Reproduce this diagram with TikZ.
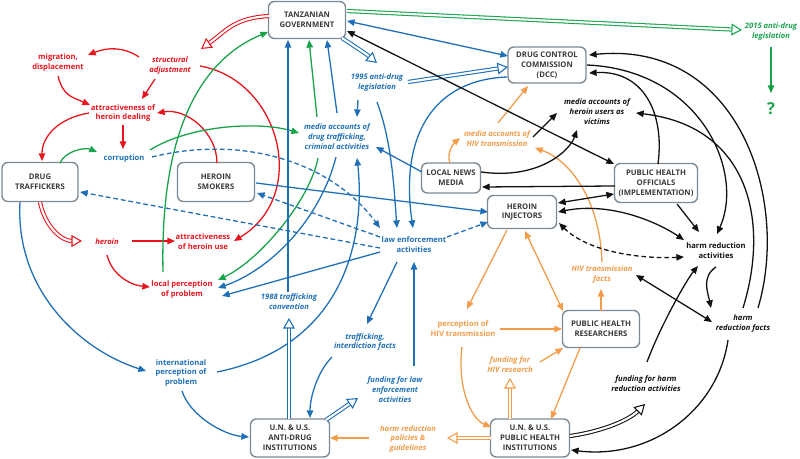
\documentclass[tikz,border=0pt]{standalone}
\usepackage{fontspec}
\setmainfont{Open Sans}
\usetikzlibrary{arrows.meta}
\definecolor{rd}{HTML}{E8141B}
\definecolor{gr}{HTML}{17A34A}
\definecolor{bl}{HTML}{1E6FB8}
\definecolor{og}{HTML}{F39C4A}
\definecolor{bk}{HTML}{111111}
\definecolor{bx}{HTML}{7D8A94}
\definecolor{tx}{HTML}{3A3A3A}
\begin{document}
\begin{tikzpicture}[x=0.03cm,y=-0.03cm,
 box/.style={draw=bx,line width=1.2pt,rounded corners=5pt,fill=white,align=center,text=tx,font=\fontsize{6.6}{8.5}\selectfont\bfseries,inner sep=1pt},
 lbl/.style={align=center,font=\fontsize{6.5}{8.5}\selectfont\bfseries,inner sep=1pt},
 ilbl/.style={align=center,font=\fontsize{6.5}{8.5}\selectfont\bfseries\itshape,inner sep=1pt},
 ar/.style={line width=1.1pt,-{Triangle[length=6.5pt,width=5.5pt]}},
 ar2/.style={line width=1.1pt,{Triangle[length=6.5pt,width=5.5pt]}-{Triangle[length=6.5pt,width=5.5pt]}},
 dbl/.style={double distance=1.8pt,line width=0.9pt,double=white,-{Triangle[open,fill=white,length=9pt,width=10pt]}},
 dsh/.style={dash pattern=on 4pt off 2.5pt}
]
\useasboundingbox (0,0) rectangle (800,459);
% boxes
\node[box,minimum width=2.31cm,minimum height=1.11cm] (TG) at (307,20) {TANZANIAN\\GOVERNMENT};
\node[box,minimum width=2.34cm,minimum height=1.08cm] (DCC) at (547,65) {DRUG CONTROL\\COMMISSION\\(DCC)};
\node[box,minimum width=2.28cm,minimum height=1.17cm] (DT) at (40,182) {DRUG\\TRAFFICKERS};
\node[box,minimum width=2.31cm,minimum height=1.17cm] (HS) at (216,182) {HEROIN\\SMOKERS};
\node[box,minimum width=1.77cm,minimum height=0.9cm] (LNM) at (451,178) {LOCAL NEWS\\MEDIA};
\node[box,minimum width=2.07cm,minimum height=0.99cm] (HI) at (522,212) {HEROIN\\INJECTORS};
\node[box,minimum width=2.49cm,minimum height=1.17cm] (PHO) at (656,183) {PUBLIC HEALTH\\OFFICIALS\\(IMPLEMENTATION)};
\node[box,minimum width=2.31cm,minimum height=1.11cm] (PHR) at (601,329) {PUBLIC HEALTH\\RESEARCHERS};
\node[box,minimum width=2.37cm,minimum height=1.14cm] (UNAD) at (290,438) {U.N. \& U.S.\\ANTI-DRUG\\INSTITUTIONS};
\node[box,minimum width=2.37cm,minimum height=1.14cm] (UNPH) at (530,438) {U.N. \& U.S.\\PUBLIC HEALTH\\INSTITUTIONS};
% labels
\node[lbl,text=rd] (mig) at (58,63) {migration,\\displacement};
\node[ilbl,text=rd] (sa) at (170,66) {structural\\adjustment};
\node[lbl,text=rd] (ahd) at (123,113) {attractiveness of\\heroin dealing};
\node[ilbl,text=rd] (her) at (107,242) {heroin};
\node[lbl,text=rd] (ahu) at (203,242) {attractiveness\\of heroin use};
\node[lbl,text=rd] (lpp) at (182,290) {local perception\\of problem};
\node[lbl,text=bl] (cor) at (124,159) {corruption};
\node[ilbl,text=bl] (l95) at (377,83) {1995 anti-drug\\legislation};
\node[ilbl,text=bl] (mad) at (337,137) {media accounts of\\drug trafficking,\\criminal activities};
\node[lbl,text=bl] (lea) at (414,245) {law enforcement\\activities};
\node[ilbl,text=bl] (c88) at (289,302) {1988 trafficking\\convention};
\node[ilbl,text=bl] (tif) at (365,342) {trafficking,\\interdiction facts};
\node[ilbl,text=bl] (fle) at (395,390) {funding for law\\enforcement\\activities};
\node[lbl,text=bl] (ipp) at (181,373) {international\\perception of\\problem};
\node[ilbl,text=og] (mah) at (497,139) {media accounts of\\HIV transmission};
\node[ilbl,text=og] (htf) at (602,275) {HIV transmission\\facts};
\node[lbl,text=og] (pht) at (463,329) {perception of\\HIV transmission};
\node[ilbl,text=og] (fhr) at (510,365) {funding for\\HIV research};
\node[ilbl,text=og] (hrp) at (408,439) {harm reduction\\policies \&\\guidelines};
\node[ilbl,text=bk] (mav) at (597,112) {media accounts of\\heroin users as\\victims};
\node[lbl,text=bk] (hra) at (716,251) {harm reduction\\activities};
\node[ilbl,text=bk] (hrf) at (743,324) {harm\\reduction facts};
\node[ilbl,text=bk] (fhra) at (646,384) {funding for harm\\reduction activities};
\node[ilbl,text=gr] (l15) at (771,32) {2015 anti-drug\\legislation};
\node[text=gr,font=\fontsize{14}{14}\selectfont\bfseries] (q) at (771,109) {?};
% RED
\draw[rd,dbl] ([shift={(-38,-4)}]TG.center) .. controls +(-35,2) and +(25,-18) .. ([shift={(31,-17)}]sa.center);
\draw[rd,ar] ([shift={(-31,-9)}]sa.center) .. controls +(-15,-10) and +(20,-8) .. ([shift={(30,-8)}]mig.center);
\draw[rd,ar] ([shift={(-15,13)}]sa.center) -- ([shift={(19,-14)}]ahd.center);
\draw[rd,ar] ([shift={(0,13)}]mig.center) .. controls +(5,20) and +(-18,-8) .. ([shift={(-33,-8)}]ahd.center);
\draw[rd,ar] ([shift={(-34,0)}]ahd.center) .. controls +(-30,5) and +(0,-25) .. ([shift={(2,-21)}]DT.center);
\draw[rd,ar] ([shift={(0,12)}]ahd.center) -- ([shift={(-1,-10)}]cor.center);
\draw[rd,ar] ([shift={(1,-19)}]HS.center) .. controls +(0,-30) and +(30,-5) .. ([shift={(34,0)}]ahd.center);
\draw[rd,ar] ([shift={(30,0)}]sa.center) .. controls +(80,14) and +(76,-46) .. ([shift={(31,-1)}]ahu.center);
\draw[rd,dbl] ([shift={(0,20)}]DT.center) .. controls +(5,25) and +(-20,0) .. ([shift={(-25,-1)}]her.center);
\draw[rd,ar] ([shift={(25,-1)}]her.center) -- ([shift={(-28,-1)}]ahu.center);
\draw[rd,ar] ([shift={(0,13)}]her.center) .. controls +(5,20) and +(-20,-2) .. ([shift={(-32,-3)}]lpp.center);
% GREEN
\draw[gr,dbl] ([shift={(40,-9)}]TG.center) -- ([shift={(-29,-2)}]l15.center);
\draw[gr,ar] ([shift={(0,15)}]l15.center) -- ([shift={(0,-16)}]q.center);
\draw[gr,ar] ([shift={(20,-19)}]DT.center) .. controls +(5,-12) and +(-12,-5) .. ([shift={(-27,-7)}]cor.center);
\draw[gr,ar] ([shift={(26,-9)}]cor.center) .. controls +(40,-25) and +(-40,-12) .. ([shift={(-38,-4)}]mad.center);
\draw[gr,ar] ([shift={(-19,-18)}]lpp.center) .. controls +(-3,-140) and +(-68,28) .. ([shift={(-39,12)}]TG.center);
\draw[gr,ar] ([shift={(-20,-20)}]mad.center) -- ([shift={(2,20)}]TG.center);
\draw[gr,ar] ([shift={(-19,21)}]mad.center) .. controls +(-8,42) and +(42,-20) .. ([shift={(36,-10)}]lpp.center);
% BLUE
\draw[bl,ar2] ([shift={(40,1)}]TG.center) -- ([shift={(-39,-9)}]DCC.center);
\draw[bl,dbl] ([shift={(35,18)}]TG.center) .. controls +(15,10) and +(-12,-10) .. ([shift={(0,-20)}]l95.center);
\draw[bl,dbl] ([shift={(31,-1)}]l95.center) -- ([shift={(-39,2)}]DCC.center);
\draw[bl,ar] ([shift={(-19,17)}]l95.center) -- ([shift={(20,-20)}]mad.center);
\draw[bl,ar] ([shift={(0,19)}]l95.center) .. controls +(15,40) and +(-3,-40) .. ([shift={(-17,-17)}]lea.center);
\draw[bl,ar] ([shift={(-40,12)}]DCC.center) .. controls +(-77,3) and +(-13,-88) .. ([shift={(-1,-17)}]lea.center);
\draw[bl,ar] ([shift={(-1,-10)}]c88.center) -- ([shift={(-19,20)}]TG.center);
\draw[bl,ar] ([shift={(0,-24)}]mad.center) -- ([shift={(20,20)}]TG.center);
\draw[bl,ar] ([shift={(36,-1)}]ipp.center) .. controls +(133,-27) and +(8,72) .. ([shift={(20,21)}]mad.center);
\draw[bl,ar] ([shift={(-1,20)}]mad.center) .. controls +(-16,63) and +(52,-18) .. ([shift={(36,-2)}]lpp.center);
\draw[bl,ar] ([shift={(-34,7)}]lea.center) -- ([shift={(40,6)}]lpp.center);
\draw[bl,ar,dsh] ([shift={(28,-2)}]cor.center) .. controls +(88,-22) and +(-50,-68) .. ([shift={(-34,-17)}]lea.center);
\draw[bl,ar,dsh] ([shift={(-34,-8)}]lea.center) -- ([shift={(41,11)}]HS.center);
\draw[bl,ar,dsh] ([shift={(-34,3)}]lea.center) -- ([shift={(40,10)}]DT.center);
\draw[bl,ar,dsh] ([shift={(33,-8)}]lea.center) -- ([shift={(-34,10)}]HI.center);
\draw[bl,ar] ([shift={(40,1)}]HS.center) -- ([shift={(-34,0)}]HI.center);
\draw[bl,ar] ([shift={(-29,-6)}]LNM.center) -- ([shift={(39,10)}]mad.center);
\draw[bl,dbl] ([shift={(-1,-19)}]UNAD.center) -- ([shift={(0,16)}]c88.center);
\draw[bl,dbl] ([shift={(36,-18)}]UNAD.center) -- ([shift={(-37,8)}]fle.center);
\draw[bl,ar] ([shift={(19,-24)}]fle.center) -- ([shift={(0,17)}]lea.center);
\draw[bl,ar] ([shift={(-17,17)}]lea.center) -- ([shift={(2,-18)}]tif.center);
\draw[bl,ar] ([shift={(-33,15)}]tif.center) .. controls +(-15,15) and +(0,-20) .. ([shift={(20,-20)}]UNAD.center);
\draw[bl,ar] ([shift={(1,18)}]ipp.center) .. controls +(8,25) and +(-25,-2) .. ([shift={(-41,-1)}]UNAD.center);
\draw[bl,ar] ([shift={(-20,20)}]DT.center) .. controls +(-5,88) and +(-66,-21) .. ([shift={(-35,-2)}]ipp.center);
% ORANGE
\draw[og,ar] ([shift={(1,-16)}]mah.center) -- ([shift={(-19,21)}]DCC.center);
\draw[og,ar] ([shift={(-1,-15)}]LNM.center) .. controls +(-4,-10) and +(-6,5) .. ([shift={(-37,-1)}]mah.center);
\draw[og,ar] ([shift={(0,-13)}]htf.center) .. controls +(-2,-62) and +(35,12) .. ([shift={(38,9)}]mah.center);
\draw[og,ar] ([shift={(-15,18)}]HI.center) -- ([shift={(4,-20)}]pht.center);
\draw[og,ar2] ([shift={(3,19)}]HI.center) -- ([shift={(-38,-18)}]PHR.center);
\draw[og,ar] ([shift={(37,0)}]pht.center) -- ([shift={(-39,0)}]PHR.center);
\draw[og,ar] ([shift={(-1,18)}]pht.center) .. controls +(-5,40) and +(-20,-8) .. ([shift={(-39,-11)}]UNPH.center);
\draw[og,ar] ([shift={(0,-18)}]PHR.center) -- ([shift={(-1,14)}]htf.center);
\draw[og,ar] ([shift={(30,-3)}]fhr.center) -- ([shift={(-38,19)}]PHR.center);
\draw[og,dbl] ([shift={(-20,-19)}]UNPH.center) -- ([shift={(0,13)}]fhr.center);
\draw[og,ar] ([shift={(-21,19)}]PHR.center) -- ([shift={(21,-19)}]UNPH.center);
\draw[og,dbl] ([shift={(-39,0)}]UNPH.center) -- ([shift={(39,-1)}]hrp.center);
\draw[og,ar] ([shift={(-39,-1)}]hrp.center) -- ([shift={(40,0)}]UNAD.center);
% BLACK
\draw[bk,ar2] ([shift={(40,11)}]TG.center) -- ([shift={(-42,-19)}]PHO.center);
\draw[bk,ar] ([shift={(40,0)}]DCC.center) .. controls +(113,5) and +(28,-63) .. ([shift={(1,-17)}]hra.center);
\draw[bk,ar] ([shift={(0,-16)}]hrf.center) .. controls +(27,-87) and +(113,13) .. ([shift={(39,1)}]mav.center);
\draw[bk,ar] ([shift={(15,-16)}]hrf.center) .. controls +(32,-107) and +(151,-15) .. ([shift={(42,-10)}]DCC.center);
\draw[bk,ar] ([shift={(2,-19)}]PHO.center) .. controls +(7,-53) and +(53,-3) .. ([shift={(42,8)}]DCC.center);
\draw[bk,ar] ([shift={(-41,3)}]PHO.center) -- ([shift={(31,9)}]LNM.center);
\draw[bk,ar2] ([shift={(36,-9)}]HI.center) -- ([shift={(-42,11)}]PHO.center);
\draw[bk,ar2] ([shift={(36,0)}]HI.center) .. controls +(50,-10) and +(-30,-20) .. ([shift={(-32,-11)}]hra.center);
\draw[bk,ar2,dsh] ([shift={(37,11)}]HI.center) .. controls +(30,30) and +(-40,2) .. ([shift={(-32,6)}]hra.center);
\draw[bk,ar] ([shift={(21,21)}]PHO.center) -- ([shift={(-17,-19)}]hra.center);
\draw[bk,ar] ([shift={(30,-6)}]LNM.center) .. controls +(59,8) and +(-7,20) .. ([shift={(-20,18)}]mav.center);
\draw[bk,ar] ([shift={(36,-2)}]mah.center) -- ([shift={(-40,1)}]mav.center);
\draw[bk,ar2] ([shift={(34,0)}]htf.center) -- ([shift={(-31,-2)}]hrf.center);
\draw[bk,ar] ([shift={(0,16)}]hra.center) .. controls +(-15,10) and +(-3,-15) .. ([shift={(-32,-16)}]hrf.center);
\draw[bk,ar] ([shift={(1,-22)}]fhra.center) .. controls +(15,-40) and +(-10,12) .. ([shift={(-18,15)}]hra.center);
\draw[bk,dbl] ([shift={(40,-2)}]UNPH.center) .. controls +(35,-5) and +(-15,15) .. ([shift={(-1,20)}]fhra.center);
\draw[bk,ar] ([shift={(-15,16)}]hrf.center) .. controls +(-10,70) and +(80,10) .. ([shift={(41,12)}]UNPH.center);
\end{tikzpicture}
\end{document}
